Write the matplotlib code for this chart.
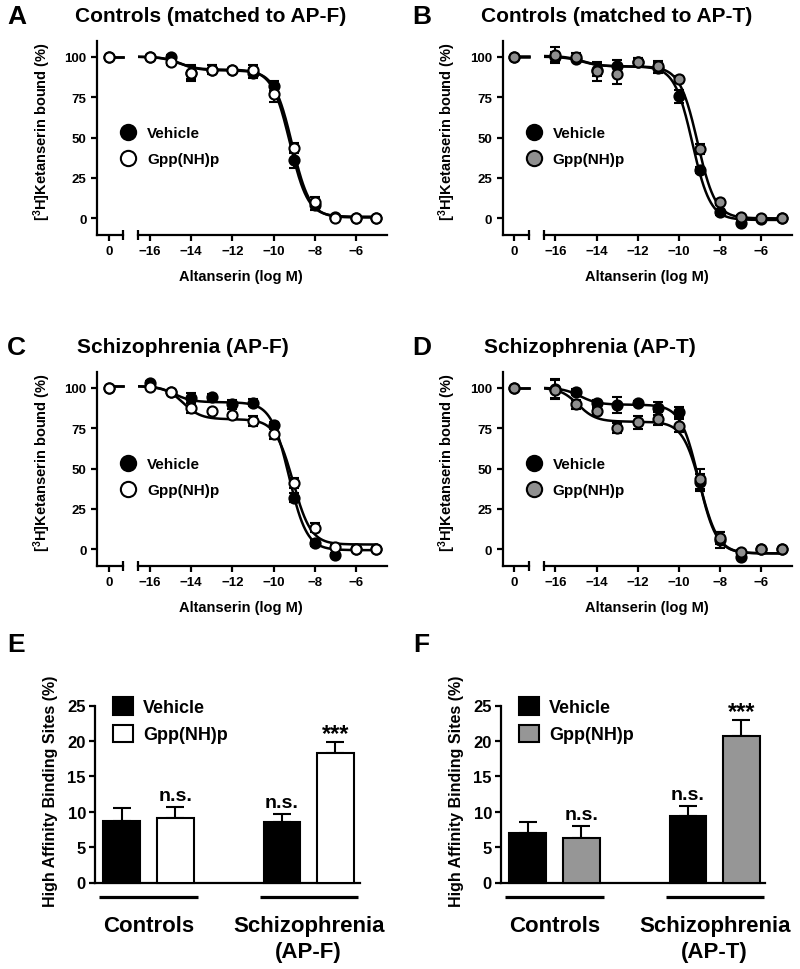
import numpy as np
import matplotlib
matplotlib.use("Agg")
import matplotlib.pyplot as plt
import matplotlib.transforms as mtransforms
from matplotlib.lines import Line2D
from matplotlib.patches import Patch

# ---------------- data ----------------
log_conc = [-16, -15, -14, -13, -12, -11, -10, -9, -8, -7, -6, -5]
y_ticks = [0, 25, 50, 75, 100]
x_ticks = [-16, -14, -12, -10, -8, -6]
series_labels = ["Vehicle", "Gpp(NH)p"]

# Panel A: Controls (matched to AP-F)
A_zero = [100, 100]
A_veh = [100, 100, 90, 92, 92, 90, 82, 36, 8, 1, 0.5, 0.5]
A_veh_err = [1, 1, 5, 3, 1, 3, 3, 5, 3, 1, 1, 1]
A_gpp = [100, 97, 90, 92, 92, 92, 77, 43.5, 10, 0.5, 0, 0]
A_gpp_err = [1, 2, 4, 3, 1, 3, 5, 3, 3, 1, 1, 1]
# fit parameters: top, plateau, bottom, logK high, logK low
A_fit_veh = [100, 92, 1, -14.6, -9.2]
A_fit_gpp = [100, 91.5, 0.5, -14.5, -9.1]

# Panel B: Controls (matched to AP-T)
B_zero = [100, 100]
B_veh = [99.6, 98.5, 92, 94, 97, 93, 75.4, 30, 4, -3, -0.5, 0]
B_veh_err = [3, 1, 4, 4, 2, 3, 4, 2, 2, 1, 1, 1]
B_gpp = [101, 100, 91, 89, 97, 94.5, 86, 43, 10, 1, 0, 0]
B_gpp_err = [5, 2, 6, 6, 2, 3, 2, 3, 2, 1, 1, 1]
B_fit_veh = [100, 94, -1, -14.7, -9.35]
B_fit_gpp = [100.5, 94, 0, -14.7, -9.1]

# Panel C: Schizophrenia (AP-F)
C_zero = [100, 100]
C_veh = [103, 97.5, 93.6, 94, 89.6, 90.7, 77, 32, 4, -3.5, 0, 0]
C_veh_err = [1, 1, 3, 2, 3, 2, 2, 3, 2, 1, 1, 1]
C_gpp = [100.4, 97.3, 87.6, 85.5, 82.8, 79.3, 71.4, 41, 13.5, 1.5, 0, 0]
C_gpp_err = [1, 1, 3, 1, 1, 3, 3, 3, 3, 1, 1, 1]
C_fit_veh = [101, 91, -0.5, -14.8, -9.25]
C_fit_gpp = [101, 80.5, 3, -14.4, -9.05]

# Panel D: Schizophrenia (AP-T)
D_zero = [100, 100]
D_veh = [99.4, 97.3, 90.5, 89.4, 90.5, 87.4, 85, 41.4, 6, -4.5, 0, 0]
D_veh_err = [6, 2, 2, 5, 1, 4, 3, 5, 5, 1, 1, 1]
D_gpp = [98.8, 89.6, 85.3, 75, 78.7, 80.7, 76.6, 43.5, 7, -1.5, 0, 0]
D_gpp_err = [6, 3, 2, 3, 4, 4, 4, 6, 4, 1, 1, 1]
D_fit_veh = [100, 89.5, -2.5, -14.8, -9.05]
D_fit_gpp = [100, 79, -2.5, -14.9, -8.95]

# Panels E / F: high affinity binding sites (%)
bar_y_ticks = [0, 5, 10, 15, 20, 25]
E_groups = ["Controls", "Schizophrenia\n(AP-F)"]
E_veh = [8.7, 8.5]
E_veh_err = [1.8, 1.2]
E_gpp = [9.05, 18.25]
E_gpp_err = [1.65, 1.55]
E_sig_veh = ["", "n.s."]
E_sig_gpp = ["n.s.", "***"]

F_groups = ["Controls", "Schizophrenia\n(AP-T)"]
F_veh = [6.95, 9.4]
F_veh_err = [1.6, 1.4]
F_gpp = [6.35, 20.7]
F_gpp_err = [1.65, 2.2]
F_sig_veh = ["", "n.s."]
F_sig_gpp = ["n.s.", "***"]

# ---------------- style ----------------
plt.rcParams.update({
    "font.family": ["Liberation Sans", "DejaVu Sans"],
    "font.weight": "bold",
    "axes.labelweight": "bold",
    "mathtext.fontset": "custom",
    "mathtext.rm": "Liberation Sans:bold",
    "mathtext.bf": "Liberation Sans:bold",
    "mathtext.it": "Liberation Sans:bold",
    "axes.linewidth": 1.6,
    "xtick.major.width": 1.6,
    "ytick.major.width": 1.6,
})

W, H = 800, 970
fig = plt.figure(figsize=(8, 9.7), dpi=100)
fig.patch.set_facecolor("white")
T = mtransforms.Affine2D().scale(1.0 / W, -1.0 / H).translate(0, 1) + fig.transFigure


def rect(l, t, r, b):
    return [l / W, 1 - b / H, (r - l) / W, (b - t) / H]


def fit_curve(x, top, plateau, bottom, k_hi, k_lo):
    x = np.asarray(x, dtype=float)
    return (bottom + (top - plateau) / (1 + 10 ** (x - k_hi))
            + (plateau - bottom) / (1 + 10 ** (x - k_lo)))


GRAY_MARK = "#8f8f8f"
GRAY_BAR = "#969696"


def curve_panel(ox, oy, letter, title, zero, veh, veh_err, gpp, gpp_err,
                fit_veh, fit_gpp, gpp_face):
    axL = fig.add_axes(rect(97 + ox, 42 + oy, 123 + ox, 236 + oy))
    axR = fig.add_axes(rect(138 + ox, 42 + oy, 387 + ox, 236 + oy))
    for ax in (axL, axR):
        ax.set_ylim(-10.3, 109.7)
        ax.patch.set_alpha(0)
        ax.spines["top"].set_visible(False)
        ax.spines["right"].set_visible(False)
        ax.tick_params(labelsize=9.5, length=4.5, width=1.6, pad=3)
    axR.spines["left"].set_visible(False)
    axL.set_xlim(-1, 1.1667)
    axR.set_xlim(-16.58, -4.49)
    axL.set_xticks([0])
    axL.set_yticks(y_ticks)
    axR.set_yticks([])
    axR.set_xticks(x_ticks)

    # break marks
    for ax, xa in ((axL, 1.0), (axR, 0.0)):
        ax.plot([xa, xa], [-0.024, 0.024], transform=ax.transAxes, color="k",
                lw=1.6, clip_on=False, solid_capstyle="butt")

    faces = ["k", gpp_face]
    datas = [(veh, veh_err, fit_veh), (gpp, gpp_err, fit_gpp)]
    xs = np.linspace(axR.get_xlim()[0], log_conc[-1], 400)
    for i, (vals, errs, fit) in enumerate(datas):
        axR.plot(xs, fit_curve(xs, *fit), color="k", lw=1.8, zorder=2)
        axL.plot([0, axL.get_xlim()[1]], [fit[0], fit[0]], color="k", lw=1.8,
                 zorder=2, clip_on=False)
    for i, (vals, errs, fit) in enumerate(datas):
        axR.errorbar(log_conc, vals, yerr=errs, fmt="o", ms=7.3, mfc=faces[i],
                     mec="k", mew=1.5, ecolor="k", elinewidth=1.4, capsize=3.5,
                     capthick=1.4, zorder=3 + i, clip_on=False)
        axL.plot([0], [zero[i]], "o", ms=7.3, mfc=faces[i], mec="k", mew=1.5,
                 zorder=3 + i, clip_on=False)

    axL.set_ylabel(r"[$^{3}$H]Ketanserin bound (%)", fontsize=10.5)
    axL.yaxis.set_label_coords(53 + ox, 132 + oy, transform=T)
    axR.set_xlabel("Altanserin (log M)", fontsize=10.5)
    axR.xaxis.set_label_coords(241 + ox, 270 + oy, transform=T)

    handles = [Line2D([], [], ls="none", marker="o", ms=11, mfc=f, mec="k", mew=1.5)
               for f in faces]
    axR.legend(handles, series_labels, loc="upper left",
               bbox_to_anchor=(120.5 + ox, 127 + oy), bbox_transform=T,
               frameon=False, fontsize=11, handlelength=1.0, handletextpad=0.74,
               labelspacing=0.8, borderpad=0, borderaxespad=0)

    fig.text(7 + ox, 17 + oy, letter, transform=T, fontsize=19, fontweight="bold",
             ha="left", va="center")
    fig.text(title[1] + ox, 17 + oy, title[0], transform=T, fontsize=15,
             fontweight="bold", ha="center", va="center")


def bar_panel(ox, letter, groups, veh, veh_err, gpp, gpp_err, sig_veh, sig_gpp,
              gpp_face):
    ax = fig.add_axes(rect(95 + ox, 706.5, 359.5 + ox, 883.5))
    ax.set_xlim(-0.5, 4.45)
    ax.set_ylim(0, 25)
    ax.patch.set_alpha(0)
    ax.spines["top"].set_visible(False)
    ax.spines["right"].set_visible(False)
    ax.set_xticks([])
    ax.set_yticks(bar_y_ticks)
    ax.tick_params(axis="y", labelsize=12, length=4.5, width=1.6, pad=2)

    centers = np.array([0.5, 3.5])
    pos_veh = centers - 0.5
    pos_gpp = centers + 0.5
    width = 0.69
    ax.bar(pos_veh, veh, width=width, color="k", edgecolor="k", lw=1.5,
           zorder=3, clip_on=False)
    ax.bar(pos_gpp, gpp, width=width, color=gpp_face, edgecolor="k", lw=1.5,
           zorder=3, clip_on=False)
    for pos, vals, errs in ((pos_veh, veh, veh_err), (pos_gpp, gpp, gpp_err)):
        ax.errorbar(pos, vals, yerr=[np.zeros(len(errs)), errs], fmt="none",
                    ecolor="k", elinewidth=1.5, capsize=6.8, capthick=1.5,
                    zorder=2)

    for pos, vals, errs, sigs in ((pos_veh, veh, veh_err, sig_veh),
                                  (pos_gpp, gpp, gpp_err, sig_gpp)):
        for p, v, e, s in zip(pos, vals, errs, sigs):
            if not s:
                continue
            if s.startswith("*"):
                ax.annotate(s, xy=(p, v + e), xytext=(0, -2),
                            textcoords="offset points", ha="center",
                            va="bottom", fontsize=17, fontweight="bold")
            else:
                ax.annotate(s, xy=(p, v + e), xytext=(0, 2),
                            textcoords="offset points", ha="center",
                            va="bottom", fontsize=14, fontweight="bold")

    bt = mtransforms.blended_transform_factory(ax.transData, T)
    for c, g in zip(centers, groups):
        ax.plot([c - 0.92, c + 0.92], [898, 898], transform=bt, color="k",
                lw=2.3, clip_on=False, solid_capstyle="butt")
        ax.text(c, 916, g, transform=bt, ha="center", va="top", fontsize=16,
                fontweight="bold", linespacing=1.3)

    ax.set_ylabel("High Affinity Binding Sites (%)", fontsize=11.5)
    ax.yaxis.set_label_coords(58 + ox, 791, transform=T)

    handles = [Patch(facecolor="k", edgecolor="k", lw=1.5),
               Patch(facecolor=gpp_face, edgecolor="k", lw=1.5)]
    ax.legend(handles, series_labels, loc="upper left",
              bbox_to_anchor=(113 + ox, 698.5), bbox_transform=T, frameon=False,
              fontsize=13, handlelength=1.1, handleheight=1.1,
              handletextpad=0.55, labelspacing=0.46, borderpad=0,
              borderaxespad=0)

    fig.text(7 + ox, 645, letter, transform=T, fontsize=19, fontweight="bold",
             ha="left", va="center")


curve_panel(0, 0, "A", ("Controls (matched to AP-F)", 211), A_zero, A_veh,
            A_veh_err, A_gpp, A_gpp_err, A_fit_veh, A_fit_gpp, "white")
curve_panel(405.5, 0, "B", ("Controls (matched to AP-T)", 211), B_zero, B_veh,
            B_veh_err, B_gpp, B_gpp_err, B_fit_veh, B_fit_gpp, GRAY_MARK)
curve_panel(0, 331, "C", ("Schizophrenia (AP-F)", 183), C_zero, C_veh,
            C_veh_err, C_gpp, C_gpp_err, C_fit_veh, C_fit_gpp, "white")
curve_panel(405.5, 331, "D", ("Schizophrenia (AP-T)", 184.5), D_zero, D_veh,
            D_veh_err, D_gpp, D_gpp_err, D_fit_veh, D_fit_gpp, GRAY_MARK)
bar_panel(0, "E", E_groups, E_veh, E_veh_err, E_gpp, E_gpp_err, E_sig_veh,
          E_sig_gpp, "white")
bar_panel(406, "F", F_groups, F_veh, F_veh_err, F_gpp, F_gpp_err, F_sig_veh,
          F_sig_gpp, GRAY_BAR)

fig.savefig("out.png", dpi=100, facecolor="white")
